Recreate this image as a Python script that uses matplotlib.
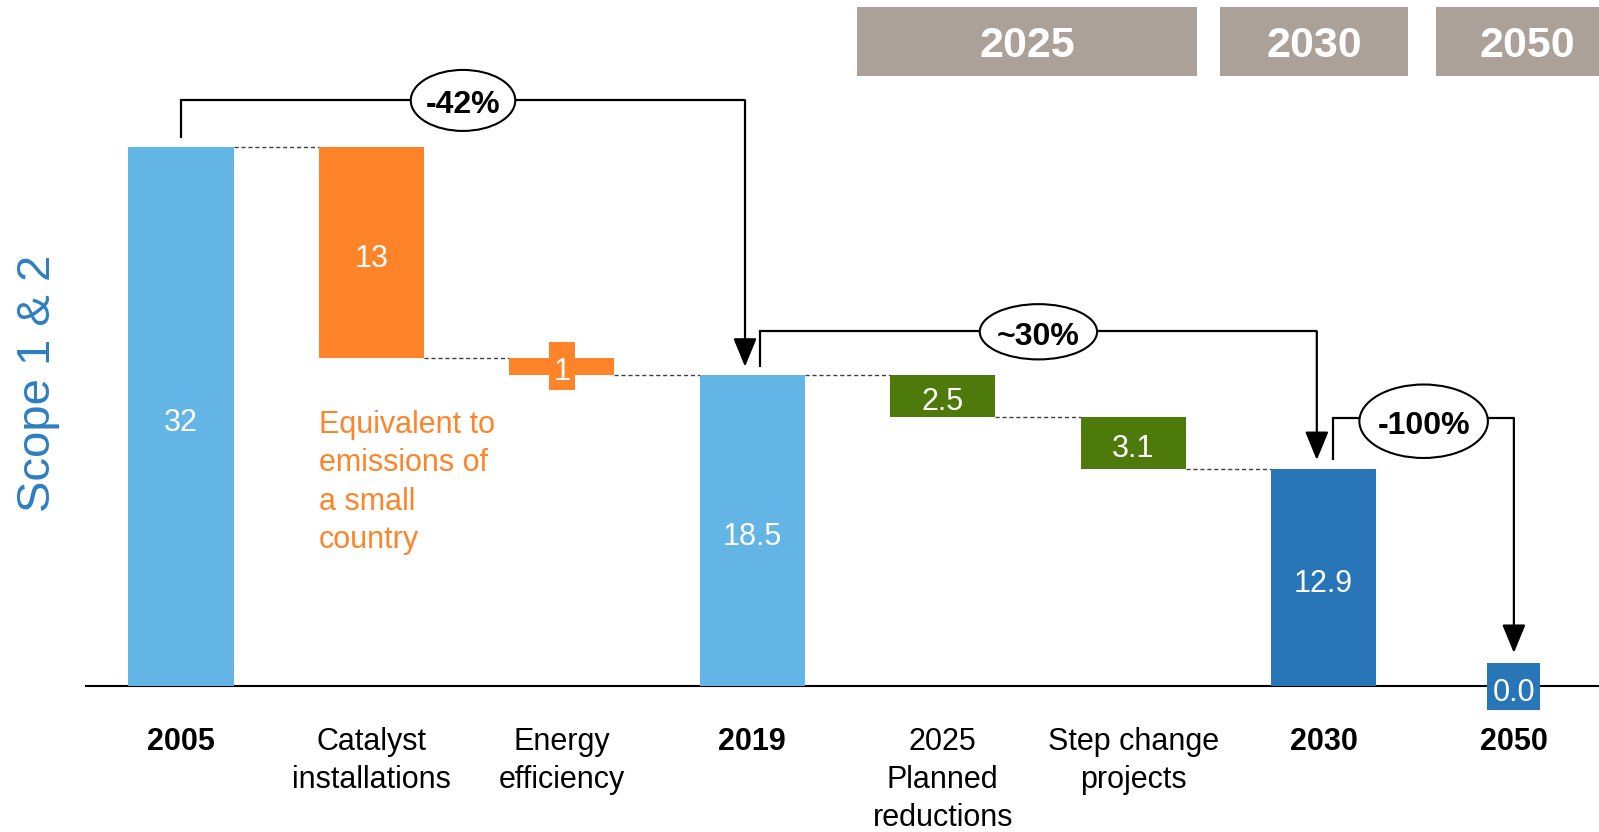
import matplotlib
matplotlib.use('Agg')
import matplotlib.pyplot as plt
from matplotlib.patches import Ellipse, Rectangle
from matplotlib import font_manager as fm

names = {f.name for f in fm.fontManager.ttflist}
NARROW = 'Liberation Sans Narrow' if 'Liberation Sans Narrow' in names else 'Liberation Sans'
plt.rcParams['font.family'] = [NARROW, 'DejaVu Sans']

# ---------------- data ----------------
categories = ["2005", "Catalyst\ninstallations", "Energy\nefficiency", "2019",
              "2025\nPlanned\nreductions", "Step change\nprojects", "2030", "2050"]
is_total = [True, False, False, True, False, False, True, True]
values = [32.0, -12.5, -1.0, 18.5, -2.5, -3.1, 12.9, 0.0]
value_labels = ["32", "13", "1", "18.5", "2.5", "3.1", "12.9", "0.0"]
bar_colors = ["#63B5E5", "#FF8429", "#FF8429", "#63B5E5",
              "#4E7A0B", "#4E7A0B", "#2876B8", "#2876B8"]

change_labels = ["-42%", "~30%", "-100%"]
change_from = [0, 3, 6]
change_to = [3, 6, 7]

header_labels = ["2025", "2030", "2050"]
annotation_text = "Equivalent to\nemissions of\na small\ncountry"
y_label = "Scope 1 & 2"

# ---------------- layout ----------------
W, H = 1599, 832
AX_Y0 = 686.3            # pixel row of the baseline
PX_PER_UNIT = 16.85
BAR_W = 0.552
FS = 22
LSP = 1.36
TICK_LSP = 1.34

# label boxes behind small labels (index -> (width, height) in data units)
label_boxes = {2: (0.139, 2.85), 7: (0.278, 2.79)}

bracket_y = [34.78, 21.07, 15.92]
bracket_start_dx = [0.0, 0.04, 0.05]
bracket_end_dx = [-0.038, -0.035, 0.0]
bracket_start_y = [32.56, 18.97, 13.43]
bracket_tip_y = [18.97, 13.43, 1.98]
ellipse_x = [1.481, 4.503, 6.526]
ellipse_y = [34.77, 21.04, 15.73]
ellipse_w = [0.549, 0.616, 0.675]
ellipse_h = [3.62, 3.28, 4.36]

header_x0 = [3.550, 5.459, 6.590]
header_x1 = [5.338, 6.444, 7.55]
header_text_x = [4.444, 5.951, 7.07]
header_y0, header_y1 = 36.2, 40.3
header_color = "#ACA198"

fig = plt.figure(figsize=(W / 100, H / 100), dpi=100)
ax = fig.add_axes([86 / W, (H - AX_Y0) / H, 1 - 86 / W, AX_Y0 / H])
ax.set_xlim(-0.499, 7.447)
ax.set_ylim(0, AX_Y0 / PX_PER_UNIT)

# waterfall geometry
x = list(range(len(categories)))
bottoms, heights, levels = [], [], []
level = 0.0
for v, tot in zip(values, is_total):
    if tot:
        bottoms.append(0.0)
        heights.append(v)
        level = v
    else:
        bottoms.append(level + v)
        heights.append(-v)
        level = level + v
    levels.append(level)

ax.bar(x, heights, bottom=bottoms, width=BAR_W, color=bar_colors, zorder=3)

# connectors
for i in range(len(x) - 1):
    lv = levels[i]
    if is_total[i + 1] and abs(values[i + 1] - lv) > 1e-6:
        continue
    ax.plot([x[i] + BAR_W / 2, x[i + 1] - BAR_W / 2], [lv, lv],
            color="#404040", lw=1.0, ls=(0, (3, 2)), zorder=2)

# value labels (with boxes for the small ones)
TXT_OFF = (0, -4.5)
for i, lab in enumerate(value_labels):
    yc = bottoms[i] + heights[i] / 2
    if i in label_boxes:
        bw, bh = label_boxes[i]
        ax.bar(x[i], bh, bottom=yc - bh / 2, width=bw, color=bar_colors[i],
               zorder=5, clip_on=False)
    ax.annotate(lab, (x[i], yc), xytext=TXT_OFF, textcoords='offset points',
                color='white', fontsize=FS, ha='center', va='center', zorder=6,
                annotation_clip=False)

# axis
for s in ['top', 'right', 'left']:
    ax.spines[s].set_visible(False)
ax.spines['bottom'].set_linewidth(1.5)
ax.spines['bottom'].set_color('black')
ax.spines['bottom'].set_zorder(2.5)
ax.set_yticks([])
ax.set_xticks(x)
ax.set_xticklabels(categories, fontsize=FS, linespacing=TICK_LSP)
for lbl, t in zip(ax.get_xticklabels(), is_total):
    lbl.set_fontweight('bold' if t else 'normal')
ax.tick_params(axis='x', length=0, pad=29.5, colors='black')
ax.patch.set_alpha(0)

# brackets with arrows
for k, lab in enumerate(change_labels):
    sx = x[change_from[k]] + bracket_start_dx[k]
    ex = x[change_to[k]] + bracket_end_dx[k]
    by = bracket_y[k]
    ax.plot([sx, sx, ex], [bracket_start_y[k], by, by], color='black', lw=1.6,
            solid_joinstyle='miter', solid_capstyle='butt', zorder=4)
    ax.annotate('', xy=(ex, bracket_tip_y[k]), xytext=(ex, by),
                arrowprops=dict(arrowstyle='-|>,head_length=0.8,head_width=0.33',
                                color='black', lw=1.6, mutation_scale=22,
                                shrinkA=0, shrinkB=0), zorder=4)
    ax.add_patch(Ellipse((ellipse_x[k], ellipse_y[k]), ellipse_w[k], ellipse_h[k],
                         facecolor='white', edgecolor='black', lw=1.5, zorder=5))
    ax.annotate(lab, (ellipse_x[k], ellipse_y[k]), xytext=(0, -3.5),
                textcoords='offset points', fontsize=23, fontweight='bold',
                ha='center', va='center', color='black', zorder=6)

# headers
for lab, x0, x1, xt in zip(header_labels, header_x0, header_x1, header_text_x):
    ax.add_patch(Rectangle((x0, header_y0), x1 - x0, header_y1 - header_y0,
                           facecolor=header_color, edgecolor='none', zorder=3))
    ax.annotate(lab, (xt, (header_y0 + header_y1) / 2), xytext=(0, -3),
                textcoords='offset points', color='white', fontsize=31,
                fontweight='bold', ha='center', va='center', zorder=4)

# orange annotation
ax.text(1 - BAR_W / 2, 16.4, annotation_text, color='#FF8429', fontsize=FS,
        ha='left', va='top', linespacing=LSP, zorder=4)

# y label
fig.text(38 / W, 1 - 383 / H, y_label, rotation=90, fontsize=34, color='#2F7EC1',
         family=['Liberation Sans', 'DejaVu Sans'], ha='center', va='center')

fig.savefig('out.png', dpi=100)
